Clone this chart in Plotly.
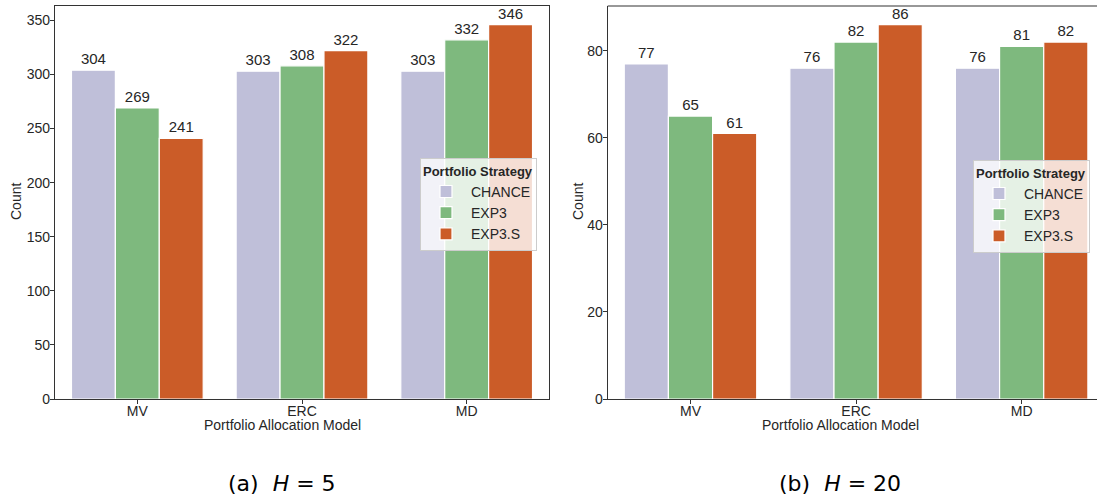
import plotly.graph_objects as go

categories = ["MV", "ERC", "MD"]
strategies = ["CHANCE", "EXP3", "EXP3.S"]
colors = ["#bfbfd9", "#7eb97e", "#cb5c28"]

h5_values = {
    "CHANCE": [304, 303, 303],
    "EXP3": [269, 308, 332],
    "EXP3.S": [241, 322, 346],
}
h20_values = {
    "CHANCE": [77, 76, 76],
    "EXP3": [65, 82, 81],
    "EXP3.S": [61, 86, 82],
}
y_ticks_h5 = [0, 50, 100, 150, 200, 250, 300, 350]
y_ticks_h20 = [0, 20, 40, 60, 80]

W, H = 1097, 501


def px(x):
    return x / W


def py(y):
    return 1 - y / H


FONT = "Liberation Sans, Arial, sans-serif"
TXT = "#262626"
LINE = "#333333"

fig = go.Figure()

for s, c in zip(strategies, colors):
    fig.add_trace(go.Bar(
        x=categories, y=h5_values[s], name=s, marker_color=c,
        marker_line_color="white", marker_line_width=1.2,
        text=h5_values[s], textposition="outside", cliponaxis=False,
        textfont=dict(size=15, color=TXT, family=FONT),
        xaxis="x", yaxis="y", legend="legend", offsetgroup=s + "a",
    ))
for s, c in zip(strategies, colors):
    fig.add_trace(go.Bar(
        x=categories, y=h20_values[s], name=s, marker_color=c,
        marker_line_color="white", marker_line_width=1.2,
        text=h20_values[s], textposition="outside", cliponaxis=False,
        textfont=dict(size=15, color=TXT, family=FONT),
        xaxis="x2", yaxis="y2", legend="legend2", offsetgroup=s + "b",
    ))

ax_common = dict(showline=True, linecolor=LINE, linewidth=1.2, ticks="outside",
                 ticklen=4, tickcolor=LINE, showgrid=False, zeroline=False,
                 automargin=False,
                 tickfont=dict(size=14, color=TXT, family=FONT))

y0 = py(399)
y1 = py(6)

leg_common = dict(xanchor="left", yanchor="top",
                  bgcolor="rgba(255,255,255,0.8)", bordercolor="#cccccc", borderwidth=1,
                  title=dict(text="<b>Portfolio Strategy</b>", side="top",
                             font=dict(size=13, color=TXT)),
                  font=dict(size=14, color=TXT), itemwidth=40, tracegroupgap=0)

fig.update_layout(
    width=W, height=H,
    margin=dict(l=0, r=0, t=0, b=0, autoexpand=False),
    paper_bgcolor="white", plot_bgcolor="white",
    barmode="group", bargap=0.2, bargroupgap=0,
    font=dict(family=FONT, color=TXT),
    hovermode=False,
    xaxis=dict(domain=[px(55), px(549)], range=[-0.5, 2.5], mirror=True,
               ticklabelstandoff=-5, anchor="y", **ax_common),
    yaxis=dict(domain=[y0, y1], range=[0, 363.3], mirror=True,
               tickvals=y_ticks_h5, ticklabelstandoff=-3, anchor="x", **ax_common),
    xaxis2=dict(domain=[px(607.7), 1.0], range=[-0.5, 2.455],
                ticklabelstandoff=-5, anchor="y2", **ax_common),
    yaxis2=dict(domain=[y0, y1], range=[0, 90.3], tickvals=y_ticks_h20,
                ticklabelstandoff=-3, anchor="x2", **ax_common),
    legend=dict(x=px(420), y=py(158), **leg_common),
    legend2=dict(x=px(973), y=py(160), **leg_common),
    showlegend=True,
)

# top spine of right panel (right spine is cropped off in the reference)
fig.add_shape(type="line", xref="x2 domain", yref="y2 domain", x0=0, x1=1, y0=1, y1=1,
              line=dict(color=LINE, width=1.2))

# axis titles
for xc in (282, 840):
    fig.add_annotation(text="Portfolio Allocation Model", xref="paper", yref="paper",
                       x=px(xc), y=py(425), xanchor="center", yanchor="middle",
                       showarrow=False, font=dict(size=14, color=TXT, family=FONT))
for xc in (16, 578):
    fig.add_annotation(text="Count", xref="paper", yref="paper", textangle=-90,
                       x=px(xc), y=py(202), xanchor="center", yanchor="middle",
                       showarrow=False, font=dict(size=14, color=TXT, family=FONT))

# sub-captions
fig.add_annotation(text="(a)  <i>H</i> = 5", xref="paper", yref="paper",
                   x=px(282), y=py(483), xanchor="center", yanchor="middle",
                   showarrow=False,
                   font=dict(size=22, color="black", family="DejaVu Sans, sans-serif"))
fig.add_annotation(text="(b)  <i>H</i> = 20", xref="paper", yref="paper",
                   x=px(840), y=py(483), xanchor="center", yanchor="middle",
                   showarrow=False,
                   font=dict(size=22, color="black", family="DejaVu Sans, sans-serif"))

fig.write_html("out.html",
               config={"displayModeBar": False},
               post_script="document.body.style.margin='0px';document.body.style.overflow='hidden';")
